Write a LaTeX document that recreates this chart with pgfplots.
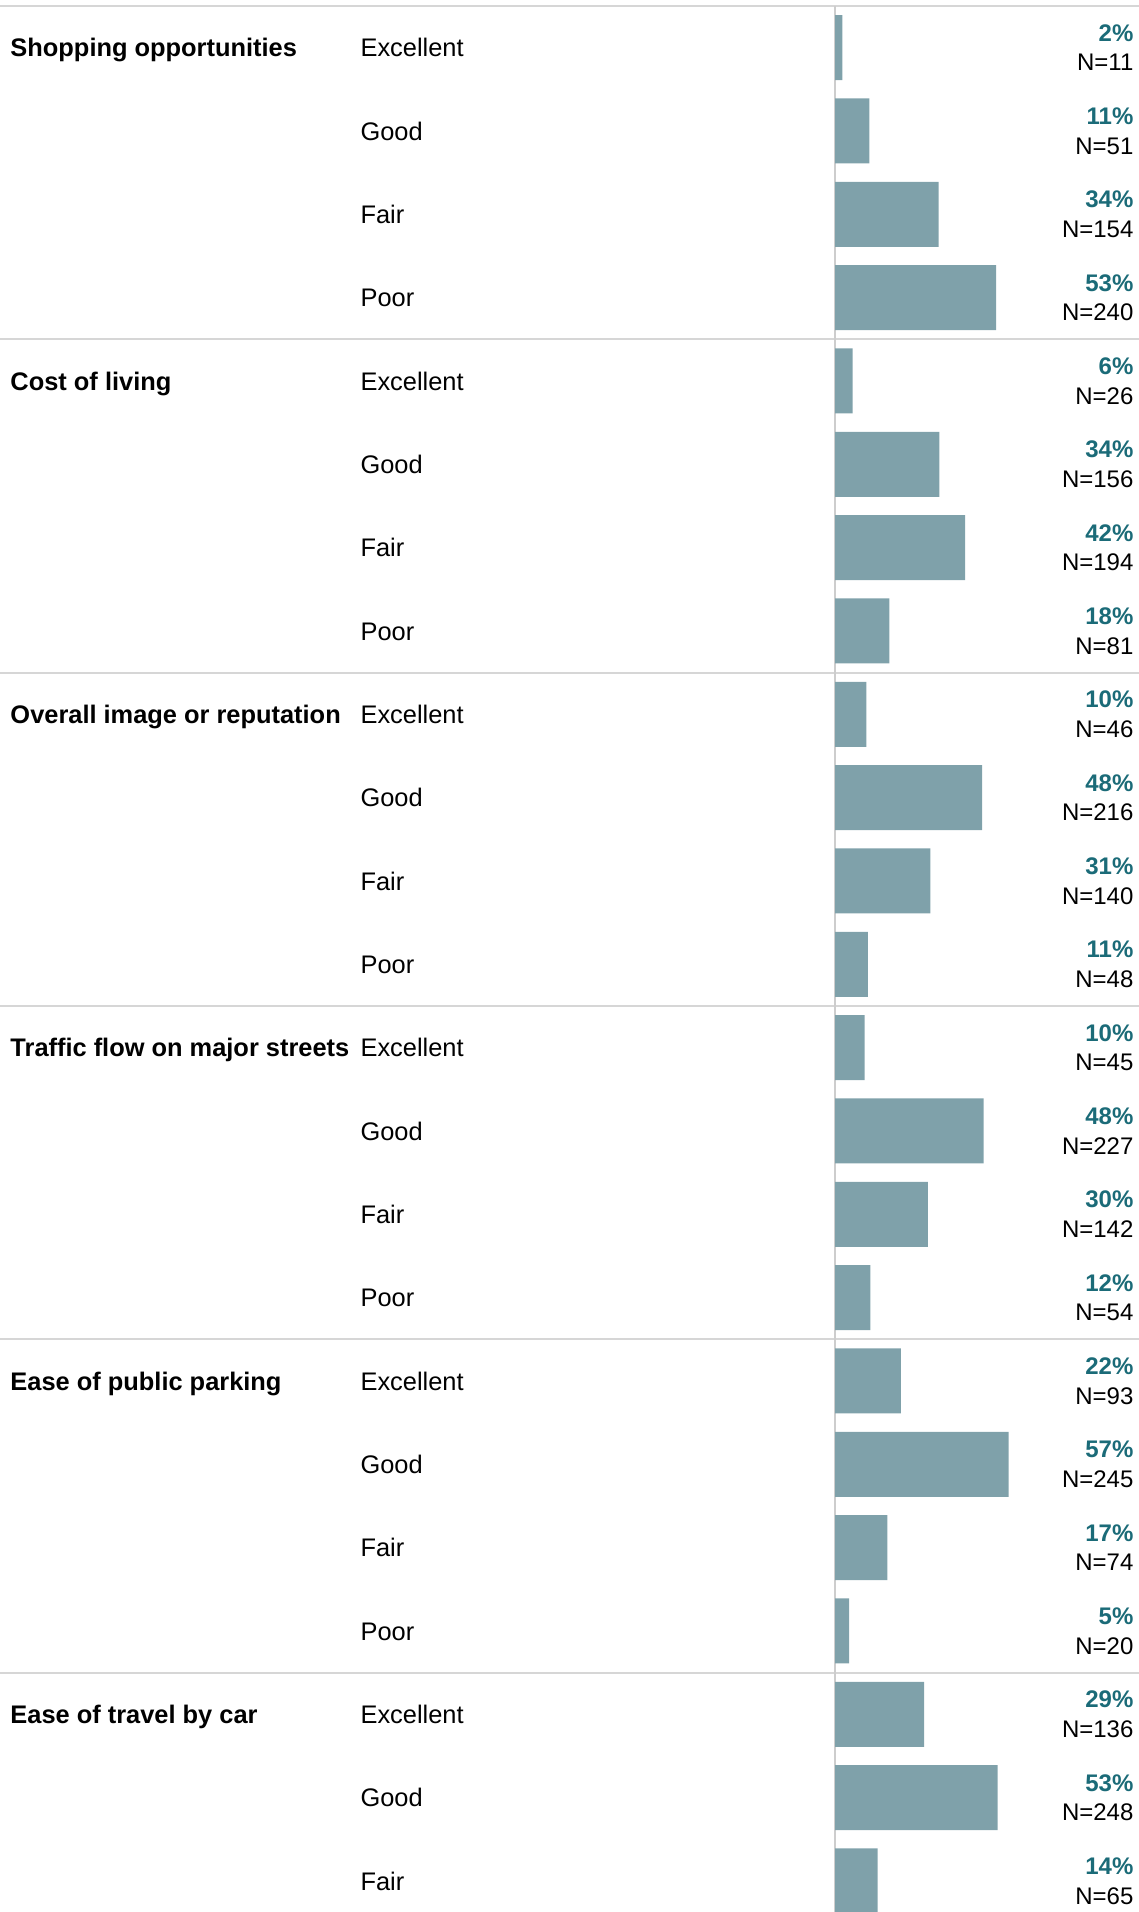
\documentclass[border=0pt]{standalone}
\usepackage{pgfplots}
\pgfplotsset{compat=1.18}
\usepackage{pgfplotstable}
\usepackage{fontspec}
\setmainfont{Liberation Sans}

\definecolor{barfill}{HTML}{7FA1AA}
\definecolor{pcttext}{HTML}{1B6B78}
\definecolor{rulegray}{HTML}{D6D6D6}

\tikzset{labeltext/.style={inner sep=0pt, text height=9.1pt, text depth=0pt,
    font=\fontsize{12.7}{15}\selectfont, text=black}}

% row = position from the top, share = exact percent, pct = printed percent
\pgfplotstableread[col sep=comma]{
row,share,pct,n,rating
0,2.4,2,11,Excellent
1,11.2,11,51,Good
2,33.8,34,154,Fair
3,52.6,53,240,Poor
4,5.7,6,26,Excellent
5,34.1,34,156,Good
6,42.5,42,194,Fair
7,17.7,18,81,Poor
8,10.2,10,46,Excellent
9,48.0,48,216,Good
10,31.1,31,140,Fair
11,10.7,11,48,Poor
12,9.6,10,45,Excellent
13,48.5,48,227,Good
14,30.3,30,142,Fair
15,11.5,12,54,Poor
16,21.5,22,93,Excellent
17,56.7,57,245,Good
18,17.1,17,74,Fair
19,4.6,5,20,Poor
20,29.1,29,136,Excellent
21,53.1,53,248,Good
22,13.9,14,65,Fair
}\ratings

\pgfplotstableread[col sep=comma]{
row,name
0,Shopping opportunities
4,Cost of living
8,Overall image or reputation
12,Traffic flow on major streets
16,Ease of public parking
20,Ease of travel by car
}\groups

\begin{document}
\begin{tikzpicture}
\begin{axis}[
    width=569.5pt, height=956pt, scale only axis,
    xmin=-272.9, xmax=99.3,
    ymin=-0.572, ymax=22.373,
    y dir=reverse,
    hide axis,
    clip=true,
]
% keep the whole axis area as the picture
\path (axis cs:-272.9,-0.572) rectangle (axis cs:99.3,22.373);
% separators and the zero line
\pgfplotsinvokeforeach{-0.5,3.5,7.5,11.5,15.5,19.5}{
    \draw[rulegray, line width=0.9pt] (axis cs:-272.9,#1) -- (axis cs:99.3,#1);
}
\draw[rulegray!90!gray, line width=0.8pt] (axis cs:0,-0.5) -- (axis cs:0,22.373);

\addplot[xbar, bar width=0.78, fill=barfill, draw=none]
    table[x=share, y=row] {\ratings};

% rating names
\addplot[only marks, mark=none, point meta=explicit symbolic,
    nodes near coords, nodes near coords style={labeltext, anchor=west}]
    table[x expr=-155.2, y=row, meta=rating] {\ratings};

% group names
\addplot[only marks, mark=none, point meta=explicit symbolic,
    nodes near coords, nodes near coords style={labeltext, anchor=west,
        font=\fontsize{12.7}{15}\selectfont\bfseries}]
    table[x expr=-269.6, y=row, meta=name] {\groups};

% percent labels
\addplot[only marks, mark=none, point meta=explicit symbolic,
    nodes near coords={\pgfplotspointmeta\%},
    nodes near coords style={labeltext, anchor=east, text height=8.6pt,
        font=\fontsize{12}{14}\selectfont\bfseries, text=pcttext}]
    table[x expr=97.6, y expr=\thisrow{row}-0.182, meta=pct] {\ratings};

% counts
\addplot[only marks, mark=none, point meta=explicit symbolic,
    nodes near coords={N=\pgfplotspointmeta},
    nodes near coords style={labeltext, anchor=east, text height=8.6pt,
        font=\fontsize{12}{14}\selectfont}]
    table[x expr=97.6, y expr=\thisrow{row}+0.176, meta=n] {\ratings};
\end{axis}
\end{tikzpicture}
\end{document}
